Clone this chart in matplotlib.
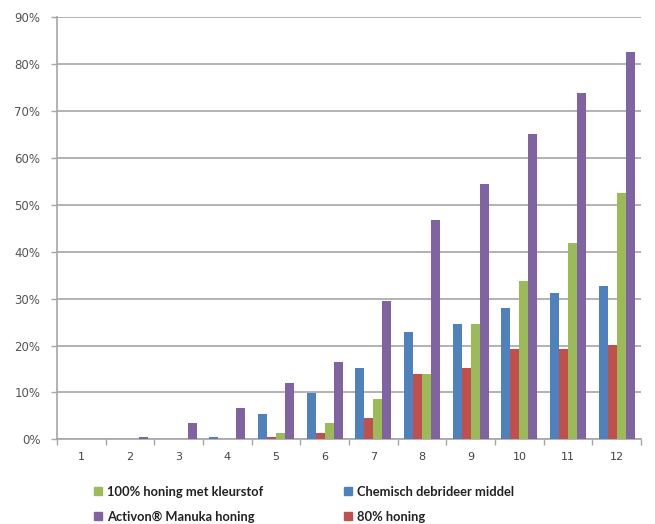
import matplotlib
matplotlib.use("Agg")
import matplotlib.pyplot as plt
import numpy as np
from matplotlib.patches import Patch

categories = ["1", "2", "3", "4", "5", "6", "7", "8", "9", "10", "11", "12"]
chemisch = [0, 0, 0, 0.5, 5.5, 9.9, 15.3, 22.8, 24.6, 27.9, 31.2, 32.6]
honing80 = [0, 0, 0, 0, 0.5, 1.3, 4.5, 14.0, 15.3, 19.3, 19.3, 20.1]
honing100 = [0, 0, 0, 0, 1.3, 3.4, 8.7, 14.0, 24.5, 33.7, 41.8, 52.6]
activon = [0, 0.5, 3.4, 6.6, 12.0, 16.4, 29.4, 46.7, 54.5, 65.2, 73.9, 82.5]
yticks = [0, 10, 20, 30, 40, 50, 60, 70, 80, 90]
ytick_labels = ["0%", "10%", "20%", "30%", "40%", "50%", "60%", "70%", "80%", "90%"]

c_blue = "#4F81BD"
c_red = "#C0504D"
c_green = "#9BBB59"
c_purple = "#8064A2"

fig = plt.figure(figsize=(6.55, 5.24), dpi=100)
ax = fig.add_axes([57/655, 84.7/524, 584/655, (439.3-17.3)/524])

x = np.arange(len(categories))
w = 0.185
series = [(chemisch, c_blue), (honing80, c_red), (honing100, c_green), (activon, c_purple)]
for i, (vals, col) in enumerate(series):
    ax.bar(x + (i - 1.5) * w, vals, width=w, color=col, zorder=3, linewidth=0)

ax.set_xlim(-0.5, len(categories) - 0.5)
ax.set_ylim(0, 90)
ax.set_yticks(yticks)
ax.set_yticklabels(ytick_labels)
ax.yaxis.grid(True, color="#A6A6A6", linewidth=1.2, zorder=0)
ax.set_axisbelow(True)

ax.set_xticks(x)
ax.set_xticklabels(categories)
ax.set_xticks(np.arange(-0.5, len(categories) + 0.5, 1), minor=True)
ax.tick_params(axis="x", which="major", length=0, pad=9, labelsize=8, labelcolor="#444444")
ax.tick_params(axis="x", which="minor", length=4, color="#A6A6A6", width=1)
ax.tick_params(axis="y", length=4, color="#A6A6A6", width=1, labelsize=8.5, labelcolor="#555555", pad=8)

for s in ["top", "right"]:
    ax.spines[s].set_visible(False)
for s in ["left", "bottom"]:
    ax.spines[s].set_color("#A6A6A6")
    ax.spines[s].set_linewidth(1.2)

handles = [
    Patch(color=c_green, label="100% honing met kleurstof"),
    Patch(color=c_purple, label="Activon\u00ae Manuka honing"),
    Patch(color=c_blue, label="Chemisch debrideer middel"),
    Patch(color=c_red, label="80% honing"),
]
fig.legend(handles=handles, ncol=2, loc="upper left", bbox_to_anchor=(82/655, 1 - 474/524),
           frameon=False, prop={"family": "Lato", "weight": "bold", "size": 9.3},
           handlelength=0.65, handleheight=0.65, handletextpad=0.4, columnspacing=6.2,
           labelspacing=1.0, labelcolor="#222222")

fig.savefig("out.png", dpi=100)
